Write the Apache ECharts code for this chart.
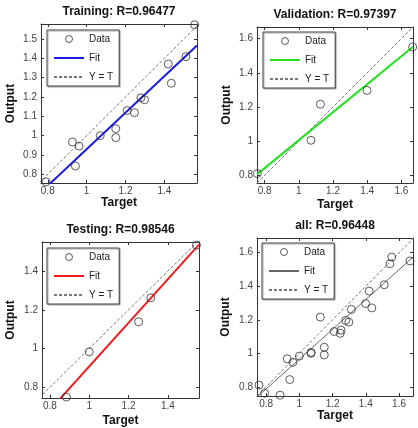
<!DOCTYPE html>
<html>
<head>
<meta charset="utf-8">
<script src="https://cdn.jsdelivr.net/npm/echarts@6/dist/echarts.min.js"></script>
<style>
  html, body { margin: 0; padding: 0; background: #fff; }
  #chart { width: 418px; height: 428px; }
</style>
</head>
<body>
<div id="chart"></div>
<script>
// values
const trainT = [0.791, 0.927, 0.961, 0.942, 1.07, 1.15, 1.15, 1.209, 1.246, 1.279, 1.298, 1.42, 1.436, 1.511, 1.556];
const trainO = [0.761, 0.967, 0.946, 0.843, 1.0, 1.036, 0.99, 1.13, 1.119, 1.196, 1.186, 1.371, 1.271, 1.409, 1.574];
const valT = [0.757, 1.071, 1.126, 1.399, 1.666];
const valO = [0.81, 1.005, 1.216, 1.297, 1.551];
const testT = [0.884, 1.0, 1.251, 1.313, 1.545];
const testO = [0.75, 0.983, 1.138, 1.262, 1.534];
const allT = trainT.concat(valT, testT);
const allO = trainO.concat(valO, testO);

// fit: [slope, intercept]
const trainFit = [0.945, -0.015];
const valFit = [0.818, 0.188];
const testFit = [1.127, -0.219];
const allFit = [0.89, 0.075];

const titles = ['Training: R=0.96477', 'Validation: R=0.97397', 'Testing: R=0.98546', 'all: R=0.96448'];

// axis limits [xmin, xmax, ymin, ymax]
const limits = [
  [0.765, 1.568, 0.755, 1.578],
  [0.755, 1.668, 0.755, 1.668],
  [0.76, 1.558, 0.745, 1.55],
  [0.745, 1.684, 0.745, 1.688]
];
const xTicks = [
  [0.8, 1, 1.2, 1.4],
  [0.8, 1, 1.2, 1.4, 1.6],
  [0.8, 1, 1.2, 1.4],
  [0.8, 1, 1.2, 1.4, 1.6]
];
const yTicks = [
  [0.8, 0.9, 1, 1.1, 1.2, 1.3, 1.4, 1.5],
  [0.8, 1, 1.2, 1.4, 1.6],
  [0.8, 1, 1.2, 1.4],
  [0.8, 1, 1.2, 1.4, 1.6]
];

const panels = [
  { t: trainT, o: trainO, fit: trainFit, color: '#1a1ae6', w: 2 },
  { t: valT, o: valO, fit: valFit, color: '#22e022', w: 2 },
  { t: testT, o: testO, fit: testFit, color: '#ee1c1c', w: 2 },
  { t: allT, o: allO, fit: allFit, color: '#666666', w: 1 }
];

// layout (pixels)
const grids = [
  { left: 41, top: 24, width: 156, height: 159 },
  { left: 257, top: 27, width: 156, height: 156 },
  { left: 42, top: 242, width: 157, height: 156 },
  { left: 257, top: 238, width: 156, height: 158 }
];
const legendPos = [[47, 30], [263, 32], [47, 248], [262, 243]];
const yNameGap = [24, 24, 25, 25];
const xNameGap = [13, 16, 16.5, 13.5];

const FONT = "'Liberation Sans', Arial, sans-serif";

const chart = echarts.init(document.getElementById('chart'));

const option = {
  backgroundColor: '#fff',
  animation: false,
  textStyle: { fontFamily: FONT },
  title: [],
  grid: [],
  xAxis: [],
  yAxis: [],
  legend: [],
  series: []
};

const hiddenSymbol = { color: 'rgba(0,0,0,0)', borderWidth: 0, opacity: 0 };

panels.forEach((p, i) => {
  const lim = limits[i];
  const g = grids[i];
  option.grid.push(g);
  option.title.push({
    text: titles[i],
    left: g.left + g.width / 2,
    top: g.top - 18,
    textAlign: 'center',
    padding: 0,
    textStyle: { fontSize: 12, fontWeight: 'bold', color: '#111', fontFamily: FONT }
  });

  const tick = { show: true, inside: true, length: 3, lineStyle: { color: '#333', width: 1 } };
  const line = { show: true, lineStyle: { color: '#333', width: 1 } };

  option.xAxis.push({
    type: 'value', gridIndex: i, position: 'bottom', min: lim[0], max: lim[1],
    name: 'Target', nameLocation: 'middle', nameGap: xNameGap[i],
    nameTextStyle: { fontSize: 12, fontWeight: 'bold', color: '#111', fontFamily: FONT },
    axisLine: line, splitLine: { show: false },
    axisTick: Object.assign({ customValues: xTicks[i] }, tick),
    axisLabel: { customValues: xTicks[i], fontSize: 10, color: '#444', margin: 3, fontFamily: FONT }
  });
  option.xAxis.push({
    type: 'value', gridIndex: i, position: 'top', min: lim[0], max: lim[1],
    axisLine: line, splitLine: { show: false },
    axisTick: Object.assign({ customValues: xTicks[i] }, tick),
    axisLabel: { show: false }
  });
  option.yAxis.push({
    type: 'value', gridIndex: i, position: 'left', min: lim[2], max: lim[3],
    name: 'Output', nameLocation: 'middle', nameGap: yNameGap[i],
    nameTextStyle: { fontSize: 12, fontWeight: 'bold', color: '#111', fontFamily: FONT },
    axisLine: line, splitLine: { show: false },
    axisTick: Object.assign({ customValues: yTicks[i] }, tick),
    axisLabel: { customValues: yTicks[i], fontSize: 10, color: '#444', margin: 4, fontFamily: FONT }
  });
  option.yAxis.push({
    type: 'value', gridIndex: i, position: 'right', min: lim[2], max: lim[3],
    axisLine: line, splitLine: { show: false },
    axisTick: Object.assign({ customValues: yTicks[i] }, tick),
    axisLabel: { show: false }
  });

  const xi = i * 2, yi = i * 2;
  const lo = Math.min(lim[0], lim[2]);
  const hi = Math.max(lim[1], lim[3]);

  option.series.push({
    name: 'Y = T' + i, type: 'line', xAxisIndex: xi, yAxisIndex: yi,
    data: [[lo, lo], [hi, hi]], symbol: 'none', z: 2,
    itemStyle: hiddenSymbol,
    lineStyle: { color: '#777', width: 1, type: [3, 2] }
  });
  option.series.push({
    name: 'Fit' + i, type: 'line', xAxisIndex: xi, yAxisIndex: yi,
    data: [[lim[0], p.fit[0] * lim[0] + p.fit[1]], [lim[1], p.fit[0] * lim[1] + p.fit[1]]],
    symbol: 'none', z: 3,
    itemStyle: hiddenSymbol,
    lineStyle: { color: p.color, width: p.w }
  });
  option.series.push({
    name: 'Data' + i, type: 'scatter', xAxisIndex: xi, yAxisIndex: yi,
    data: p.t.map((t, k) => [t, p.o[k]]), symbol: 'circle', symbolSize: 8, z: 4, clip: false,
    itemStyle: { color: 'rgba(0,0,0,0)', borderColor: '#333', borderWidth: 1 }
  });

  option.legend.push({
    orient: 'vertical', left: legendPos[i][0], top: legendPos[i][1],
    data: [
      { name: 'Data' + i, icon: 'circle', itemStyle: { color: 'rgba(0,0,0,0)', borderColor: '#333', borderWidth: 1 } },
      { name: 'Fit' + i, itemStyle: hiddenSymbol },
      { name: 'Y = T' + i, itemStyle: hiddenSymbol }
    ],
    formatter: name => name.slice(0, -1),
    itemWidth: 30, itemHeight: 7, itemGap: 9,
    padding: [4, 6, 4, 6],
    backgroundColor: '#fff', borderColor: '#444', borderWidth: 1,
    shadowColor: 'rgba(0,0,0,0.35)', shadowOffsetX: 1, shadowOffsetY: 1, shadowBlur: 1,
    selectedMode: false,
    textStyle: { fontSize: 10, color: '#222', fontFamily: FONT }
  });
});

chart.setOption(option);
</script>
</body>
</html>
